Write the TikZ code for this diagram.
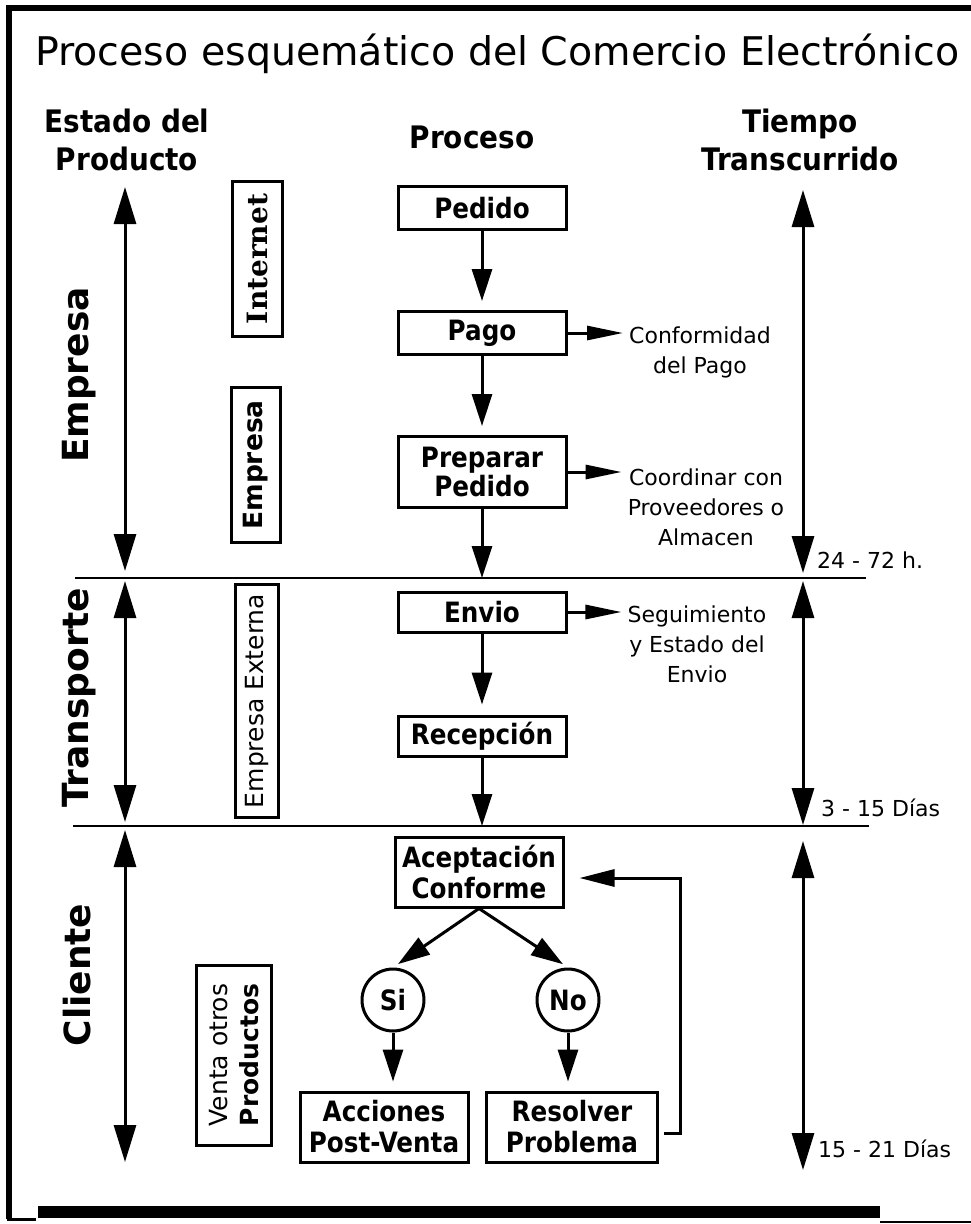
\documentclass[tikz,border=0pt]{standalone}
\usepackage{fontspec}
\setmainfont{DejaVu Sans}
\newfontfamily\condfont{DejaVu Sans}[FakeStretch=0.9]
\newfontfamily\boxfont{DejaVu Sans}[FakeStretch=0.88]
\newfontfamily\slabfont{DejaVu Serif}
\usetikzlibrary{arrows.meta}

\begin{document}
\begin{tikzpicture}[x=1pt,y=-1pt,
  procbox/.style={draw,line width=3pt,inner sep=0pt,minimum width=168pt,align=center,
    font=\boxfont\fontsize{28}{31}\selectfont\bfseries},
  decision/.style={draw,circle,line width=3pt,inner sep=0pt,minimum size=62pt,
    font=\boxfont\fontsize{28}{31}\selectfont\bfseries},
  tagbox/.style={draw,line width=3pt,inner sep=0pt,rotate=90,align=center},
  phase/.style={rotate=90,anchor=base,inner sep=0pt,font=\fontsize{36}{40}\selectfont\bfseries},
  header/.style={anchor=base,inner sep=0pt,font=\condfont\fontsize{31}{36}\selectfont\bfseries},
  note/.style={align=center,inner sep=0pt,font=\fontsize{22}{30}\selectfont},
  timetext/.style={anchor=base west,inner sep=0pt,font=\fontsize{22}{26}\selectfont},
  flow/.style={line width=3pt,-{Triangle[length=32pt,width=20pt]}},
  sidearrow/.style={line width=3pt,-{Triangle[length=36pt,width=14pt]}},
  span/.style={line width=3pt,{Triangle[length=37pt,width=22pt]}-{Triangle[length=37pt,width=22pt]}},
  divider/.style={line width=1.6pt}
]
\useasboundingbox (0,0) rectangle (971,1224);
\fill[white] (0,0) rectangle (971,1224);

% outer frame
\draw[line width=6pt,line join=miter] (9,1219) -- (9,8) -- (971,8);
\draw[line width=3pt] (7,1219) -- (36,1219);
\fill (38,1206) rectangle (880,1218);
\draw[line width=1.5pt] (880,1222) -- (971,1222);

% title and column headers
\node[anchor=base west,inner sep=0pt,font=\fontsize{39.5}{44}\selectfont] (title) at (35,65)
  {Proceso esquemático del Comercio Electrónico};
\node[header] (hEstado) at (127,132) {Estado del};
\node[header] (hProducto) at (127,170) {Producto};
\node[header] (hProceso) at (472,148) {Proceso};
\node[header] (hTiempo) at (800,132) {Tiempo};
\node[header] (hTrans) at (800,170) {Transcurrido};

% stage dividers
\coordinate (d1l) at (75,578);  \coordinate (d1r) at (866,578);
\coordinate (d2l) at (73,826);  \coordinate (d2r) at (869,826);
\draw[divider] (d1l) -- (d1r);
\draw[divider] (d2l) -- (d2r);

% product state spans (left) and elapsed time spans (right)
\coordinate (la1) at (125,187);  \coordinate (lb1) at (125,571);
\coordinate (la2) at (125,581);  \coordinate (lb2) at (125,822);
\coordinate (la3) at (125,830);  \coordinate (lb3) at (125,1162);
\coordinate (ra1) at (803,190);  \coordinate (rb1) at (803,573);
\coordinate (ra2) at (803,581);  \coordinate (rb2) at (803,825);
\coordinate (ra3) at (803,841);  \coordinate (rb3) at (803,1170);
\draw[span] (la1) -- (lb1);
\draw[span] (la2) -- (lb2);
\draw[span] (la3) -- (lb3);
\draw[span] (ra1) -- (rb1);
\draw[span] (ra2) -- (rb2);
\draw[span] (ra3) -- (rb3);

\node[phase] (pEmpresa) at (88,375) {Empresa};
\node[phase] (pTransporte) at (88,698) {Transporte};
\node[phase] (pCliente) at (90,975) {Cliente};

\node[timetext] (t1) at (817,568) {24 - 72 h.};
\node[timetext] (t2) at (821,816) {3 - 15 Días};
\node[timetext] (t3) at (818,1157) {15 - 21 Días};

% responsible party tags
\node[tagbox,minimum width=155pt,minimum height=50pt,
  font=\slabfont\fontsize{28}{30}\selectfont\bfseries] (tInternet) at (257,259) {Internet};
\node[tagbox,minimum width=155pt,minimum height=49pt,
  font=\fontsize{26.5}{30}\selectfont\bfseries] (tEmpresa) at (256,465) {Empresa};
\node[tagbox,minimum width=233pt,minimum height=43pt,
  font=\fontsize{25}{30}\selectfont] (tExterna) at (257,701) {Empresa Externa};
\node[tagbox,minimum width=180pt,minimum height=75pt,
  font=\fontsize{25}{31}\selectfont] (tVenta) at (234,1055) {Venta otros\\\textbf{Productos}};

% process steps
\node[procbox,minimum height=43pt] (pedido) at (482,208) {Pedido};
\node[procbox,minimum height=43pt] (pago) at (482,333) {Pago};
\node[procbox,minimum height=71pt,font=\boxfont\fontsize{28}{29}\selectfont\bfseries] (prep) at (482,472) {Preparar\\Pedido};
\node[procbox,minimum height=40pt] (envio) at (482,612) {Envio};
\node[procbox,minimum height=40pt] (recep) at (482,736) {Recepción};
\node[procbox,minimum height=70pt] (acept) at (479,872) {Aceptación\\Conforme};
\node[decision] (si) at (393,1000) {Si};
\node[decision] (no) at (568,1000) {No};
\node[procbox,minimum height=70pt] (acc) at (384,1127) {Acciones\\Post-Venta};
\node[procbox,minimum height=70pt,minimum width=171pt] (res) at (572,1127) {Resolver\\Problema};

% side notes
\node[note] (conf) at (700,352) {Conformidad\\del Pago};
\node[note] (coord) at (706,507) {Coordinar con\\Proveedores o\\Almacen};
\node[note] (segu) at (697,644) {Seguimiento\\y Estado del\\Envio};

% main flow
\draw[flow,shorten >=9pt] (pedido) -- (pago);
\draw[flow,shorten >=9pt] (pago) -- (prep);
\draw[flow] (prep) -- (prep |- d1l);
\draw[flow,shorten >=10pt] (envio) -- (recep);
\draw[flow] (recep) -- (recep |- d2l);
\draw[flow,shorten >=6pt] (acept.south) -- (si.north);
\draw[flow,shorten >=6pt] (acept.south) -- (no.north);
\draw[flow,shorten >=9pt] (si.south) -- (si.south |- acc.north);
\draw[flow,shorten >=9pt] (no.south) -- (no.south |- res.north);
\draw[flow,-{Triangle[length=35pt,width=17pt]}]
  ([xshift=5pt,yshift=-6pt]res.east) -- ++(16,0) |- ([xshift=15pt,yshift=-6pt]acept.east);

% side arrows
\draw[sidearrow,shorten >=6pt] (pago.east) -- (pago.east -| conf.west);
\draw[sidearrow,shorten >=6pt] (prep.east) -- (prep.east -| coord.west);
\draw[sidearrow,shorten >=6pt] (envio.east) -- (envio.east -| segu.west);
\end{tikzpicture}
\end{document}
